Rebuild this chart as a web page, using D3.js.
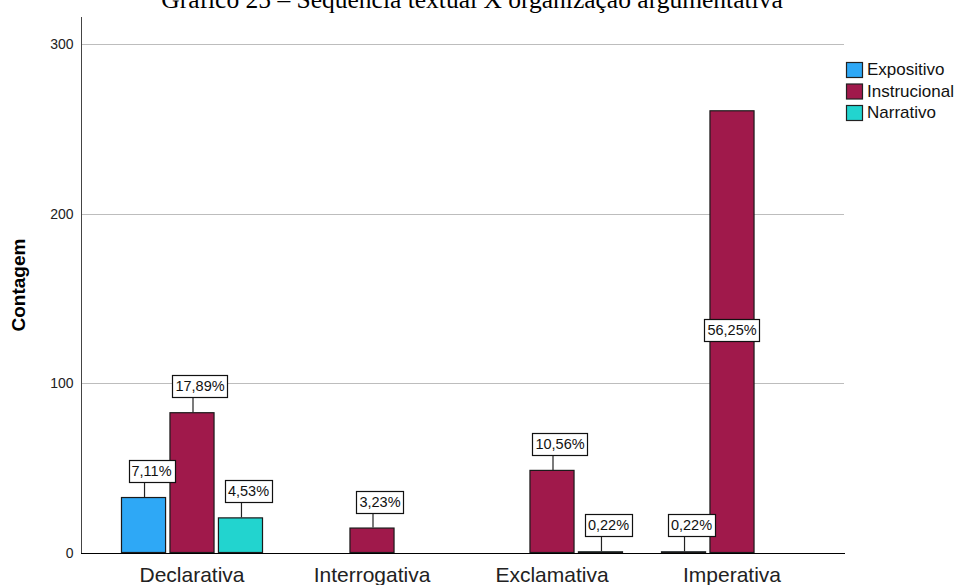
<!DOCTYPE html>
<html>
<head>
<meta charset="utf-8">
<script src="https://cdn.jsdelivr.net/npm/d3@7"></script>
<style>
  html, body { margin: 0; padding: 0; background: #ffffff; }
  svg { display: block; }
</style>
</head>
<body>
<svg id="chart" width="958" height="585"></svg>
<script>
// ---------- data ----------
const chartTitle = "Gráfico 25 – Sequência textual X organização argumentativa";
const yAxisTitle = "Contagem";
const categories = ["Declarativa", "Interrogativa", "Exclamativa", "Imperativa"];
const seriesNames = ["Expositivo", "Instrucional", "Narrativo"];
const seriesColors = ["#2ea8f6", "#a0194b", "#22d4cf"];
const expositivo   = [33, 0, 0, 1];
const instrucional = [83, 15, 49, 261];
const narrativo    = [21, 0, 1, 0];
const yTicks = [0, 100, 200, 300];
const yMax = 316;

// ---------- build ----------
const seriesValues = [expositivo, instrucional, narrativo];
const total = d3.sum(seriesValues.flat());
const rows = [];
categories.forEach((c, ci) => {
  seriesNames.forEach((s, si) => {
    rows.push({ category: c, series: s, si, value: seriesValues[si][ci] });
  });
});

const svg = d3.select("#chart");
const plot = { left: 81, right: 845, top: 17, bottom: 553 };

const x0 = d3.scaleBand().domain(categories).range([102, 822])
  .paddingInner(0.211).paddingOuter(0.1055);
const x1 = d3.scaleBand().domain(seriesNames).range([0, x0.bandwidth()])
  .paddingInner(0.07).paddingOuter(0);
const y = d3.scaleLinear().domain([0, yMax]).range([plot.bottom, plot.top]);
const color = d3.scaleOrdinal().domain(seriesNames).range(seriesColors);

// title (partly above the top edge, as in the reference)
svg.append("text")
  .attr("x", 472).attr("y", 8)
  .attr("text-anchor", "middle")
  .attr("font-family", "'Liberation Serif', 'Times New Roman', serif")
  .attr("font-size", 25.5)
  .attr("fill", "#000")
  .text(chartTitle);

// gridlines
svg.append("g").selectAll("line")
  .data(yTicks.filter(t => t > 0))
  .join("line")
  .attr("x1", plot.left + 1).attr("x2", plot.right - 1)
  .attr("y1", d => Math.round(y(d)) + 0.5).attr("y2", d => Math.round(y(d)) + 0.5)
  .attr("stroke", "#bdbdbd").attr("stroke-width", 1);

// y axis
const yAxis = d3.axisLeft(y).tickValues(yTicks).tickSize(0).tickPadding(8).tickFormat(d3.format("d"));
const yg = svg.append("g").attr("transform", `translate(${plot.left + 0.5},0)`).call(yAxis);
yg.select(".domain").attr("stroke", "#444").attr("d", `M0,${plot.top}V${plot.bottom}`);
yg.selectAll("text")
  .attr("font-family", "Arial, 'Liberation Sans', sans-serif")
  .attr("font-size", 14).attr("fill", "#222");

// y axis title
svg.append("text")
  .attr("transform", `translate(25,${(plot.top + plot.bottom) / 2}) rotate(-90)`)
  .attr("text-anchor", "middle")
  .attr("font-family", "Arial, 'Liberation Sans', sans-serif")
  .attr("font-weight", "bold")
  .attr("font-size", 19)
  .attr("fill", "#000")
  .text(yAxisTitle);

// bars
const barG = svg.append("g");
const groups = barG.selectAll("g.cat").data(categories).join("g")
  .attr("class", "cat")
  .attr("transform", d => `translate(${x0(d)},0)`);
groups.selectAll("rect")
  .data(c => rows.filter(r => r.category === c && r.value > 0))
  .join("rect")
  .attr("x", d => x1(d.series) + 0.5)
  .attr("y", d => y(d.value) + 0.5)
  .attr("width", x1.bandwidth() - 1)
  .attr("height", d => Math.max(1, y(0) - y(d.value) - 1))
  .attr("fill", d => color(d.series))
  .attr("stroke", "#1a1a1a").attr("stroke-width", 1.2);

// x axis
const xAxis = d3.axisBottom(x0).tickSize(0).tickPadding(14);
const xg = svg.append("g").attr("transform", `translate(0,${plot.bottom + 0.5})`).call(xAxis);
xg.select(".domain").attr("stroke", "#000").attr("d", `M${plot.left},0H${plot.right}`);
xg.selectAll("text")
  .attr("font-family", "Arial, 'Liberation Sans', sans-serif")
  .attr("font-size", 21).attr("fill", "#222")
  .attr("dy", "0.71em");

// value labels
const fmtPct = v => (v / total * 100).toFixed(2).replace(".", ",") + "%";
const labelG = svg.append("g");
rows.filter(r => r.value > 0).forEach(r => {
  const cx = x0(r.category) + x1(r.series) + x1.bandwidth() / 2;
  const top = y(r.value);
  const inside = (y(0) - top) > 300;
  const g = labelG.append("g");
  const t = g.append("text")
    .attr("font-family", "Arial, 'Liberation Sans', sans-serif")
    .attr("font-size", 14.5).attr("fill", "#111")
    .attr("text-anchor", "middle")
    .text(fmtPct(r.value));
  const tw = t.node().getComputedTextLength();
  const bw = tw + 6, bh = 22;
  let bx, by;
  if (inside) {
    bx = cx; by = (top + y(0)) / 2 - 2;
  } else {
    bx = cx + 8; by = top - 15 - bh / 2;
    g.insert("line", "text")
      .attr("x1", cx + 1).attr("x2", cx + 1)
      .attr("y1", by + bh / 2).attr("y2", top)
      .attr("stroke", "#222").attr("stroke-width", 1.2);
  }
  g.insert("rect", "text")
    .attr("x", Math.round(bx - bw / 2) + 0.5).attr("y", Math.round(by - bh / 2) + 0.5)
    .attr("width", Math.round(bw)).attr("height", bh)
    .attr("fill", "#fff").attr("stroke", "#111").attr("stroke-width", 1.2);
  t.attr("x", bx).attr("y", by + 5);
});

// legend
const leg = svg.append("g").attr("transform", "translate(846,62)");
const li = leg.selectAll("g").data(seriesNames).join("g")
  .attr("transform", (d, i) => `translate(0,${i * 21.5})`);
li.append("rect")
  .attr("x", 0.5).attr("y", 0.5).attr("width", 16).attr("height", 15)
  .attr("fill", d => color(d)).attr("stroke", "#222").attr("stroke-width", 1.2);
li.append("text")
  .attr("x", 21).attr("y", 13)
  .attr("font-family", "Arial, 'Liberation Sans', sans-serif")
  .attr("font-size", 17).attr("fill", "#111")
  .text(d => d);
</script>
</body>
</html>
